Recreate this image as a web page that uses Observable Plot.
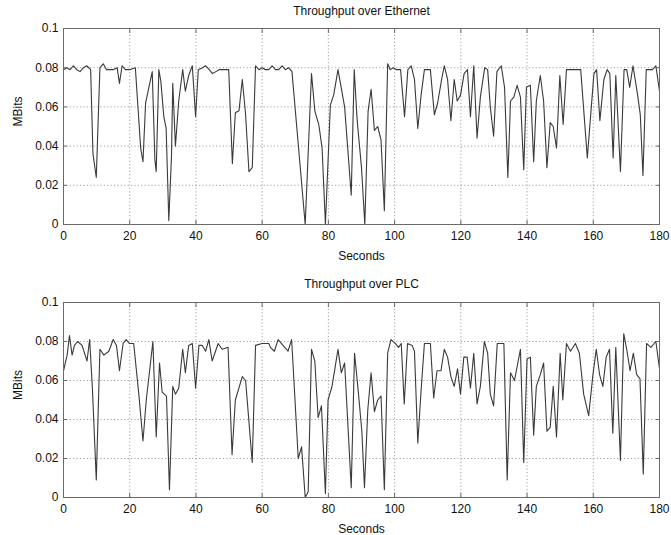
<!DOCTYPE html>
<html>
<head>
<meta charset="utf-8">
<script src="https://cdn.jsdelivr.net/npm/d3@7"></script>
<script src="https://cdn.jsdelivr.net/npm/@observablehq/plot@0.6"></script>
<style>
  html, body { margin: 0; padding: 0; background: #fff; }
  #chart { width: 671px; height: 535px; position: relative; }
  #chart svg { display: block; }
</style>
</head>
<body>
<div id="chart"></div>
<script>
const xTicks = [0, 20, 40, 60, 80, 100, 120, 140, 160, 180];
const yTicks = [0, 0.02, 0.04, 0.06, 0.08, 0.1];
const titles = ["Throughput over Ethernet", "Throughput over PLC"];
const xLabel = "Seconds";
const yLabel = "MBits";

const ethTime = [0,1,2,3,4,5,6,7,8.2,8.9,9.9,11,12,13,14,15,16.2,16.9,17.7,18.7,20,21.7,23.3,24,24.8,26.8,27.6,28,28.8,29.4,30.3,31,31.8,32.6,33,33.8,34.8,36,36.8,37.8,38.9,39.9,40.7,42,42.9,44,45,46,47,48,49.9,51,51.9,53,54,55,56,57,58,59,60,61,62,63,64,65,66,67,68,69,73,74.9,75.9,77.1,78.1,79.1,80.6,81.6,82.9,84.9,86.9,87.8,88.7,90,91,92,92.9,93.9,94.9,95.9,96.9,97.9,98.7,99.6,100.6,101.8,103,104,105,106,107,108,109,110.8,112,113,114.2,115,116,117,118,118.9,119.9,121,122,122.9,123.9,124.9,125.9,127.2,128.1,128.9,129.9,130.9,132.2,133.2,134.2,135,136,137,138,139,139.8,141,142,142.8,144,145,146,147,147.9,148.9,149.9,150.9,151.9,154,156.2,158.2,160.2,161,162,163.2,164.2,165,166,166.8,168.2,169.3,170.1,171,172,173.4,174.2,175,176,177.9,178.9,180];
const ethMbits = [0.079,0.080,0.079,0.081,0.079,0.078,0.080,0.081,0.079,0.036,0.024,0.080,0.082,0.079,0.079,0.079,0.080,0.072,0.081,0.079,0.079,0.080,0.039,0.032,0.062,0.078,0.033,0.027,0.079,0.073,0.055,0.049,0.002,0.034,0.072,0.040,0.063,0.079,0.068,0.076,0.081,0.055,0.079,0.080,0.081,0.079,0.077,0.078,0.079,0.079,0.079,0.031,0.057,0.058,0.074,0.056,0.027,0.029,0.081,0.079,0.080,0.079,0.079,0.081,0.079,0.079,0.081,0.079,0.080,0.078,0.000,0.077,0.058,0.051,0.039,0.000,0.061,0.066,0.079,0.060,0.015,0.079,0.053,0.029,0.000,0.058,0.069,0.048,0.050,0.043,0.007,0.082,0.079,0.080,0.079,0.079,0.055,0.079,0.081,0.074,0.049,0.066,0.079,0.079,0.056,0.062,0.074,0.081,0.074,0.053,0.074,0.063,0.066,0.077,0.079,0.055,0.081,0.044,0.065,0.080,0.079,0.060,0.045,0.078,0.081,0.070,0.024,0.063,0.065,0.071,0.065,0.028,0.070,0.071,0.032,0.063,0.076,0.063,0.029,0.052,0.050,0.039,0.076,0.051,0.079,0.079,0.079,0.034,0.077,0.079,0.053,0.074,0.079,0.077,0.034,0.076,0.027,0.079,0.079,0.070,0.081,0.066,0.056,0.025,0.079,0.079,0.081,0.068];

const plcTime = [0,1.1,1.8,2.6,3.3,4.3,5.6,7.1,7.9,8.7,9.9,11,12.2,13.7,15,16,16.9,18,18.9,19.9,21.2,22.8,24,25,27,28,29,29.8,31.1,32,33,33.8,34.8,36,36.8,37.8,38.9,39.9,40.9,41.9,42.9,43.9,44.9,46.7,47.9,49.7,50.9,51.9,54,55,57,58,60,62,62.5,63.7,64.8,65.8,66.8,67.8,68.9,70.9,71.9,73,73.9,74.9,75.9,76.9,77.9,79.1,79.9,81.1,82.9,83.9,84.9,86.9,87.9,89.1,90.1,90.9,91.9,92.9,93.9,94.9,95.9,96.9,97.9,98.9,100.2,101.2,102,102.9,103.9,105.3,106,107,108,109,110.8,111.8,112.8,114,115,116,117,118,119,119.9,120.9,121.9,122.9,123.9,124.9,125.9,127.1,128.1,128.9,129.9,131,133,134,135,136.2,138,139,140,141,142,142.8,144,145,146,147,147.9,148.9,150,150.8,151.9,153.1,154.6,155.8,157.1,158.6,159.9,160.9,161.9,162.9,163.9,164.9,165.9,166.8,168.2,169.2,170.2,171.1,172.1,173.1,174.1,175.1,176.1,177.4,178.9,180];
const plcMbits = [0.065,0.073,0.083,0.073,0.078,0.080,0.078,0.070,0.081,0.057,0.009,0.076,0.073,0.075,0.081,0.078,0.065,0.079,0.081,0.079,0.079,0.052,0.029,0.050,0.080,0.031,0.069,0.054,0.052,0.004,0.057,0.053,0.056,0.076,0.064,0.078,0.079,0.056,0.078,0.078,0.075,0.081,0.070,0.079,0.076,0.077,0.022,0.050,0.062,0.060,0.018,0.078,0.079,0.079,0.077,0.075,0.081,0.079,0.077,0.075,0.081,0.020,0.026,0.000,0.003,0.076,0.070,0.041,0.047,0.002,0.050,0.057,0.076,0.064,0.069,0.005,0.074,0.053,0.034,0.005,0.045,0.064,0.044,0.050,0.052,0.004,0.074,0.081,0.079,0.077,0.079,0.048,0.079,0.078,0.075,0.028,0.055,0.079,0.079,0.051,0.065,0.065,0.076,0.072,0.062,0.057,0.066,0.053,0.072,0.072,0.056,0.074,0.048,0.057,0.080,0.074,0.053,0.047,0.079,0.079,0.009,0.064,0.060,0.076,0.018,0.071,0.072,0.032,0.057,0.063,0.069,0.034,0.036,0.057,0.031,0.074,0.050,0.079,0.075,0.079,0.074,0.053,0.042,0.063,0.076,0.063,0.057,0.072,0.076,0.033,0.077,0.019,0.084,0.075,0.065,0.074,0.063,0.061,0.012,0.079,0.077,0.080,0.066];

const FONT = "'Liberation Sans', Arial, Helvetica, sans-serif";

function panel(title, time, vals, height, mTop, mBottom, titleDy) {
  const data = time.map((t, i) => ({t, v: vals[i]}));
  const gridStyle = {stroke: "#8a8a8a", strokeOpacity: 1, strokeWidth: 0.8, strokeDasharray: "1.2,2.2"};
  const fmtY = d => String(+d.toFixed(2));
  return Plot.plot({
    width: 671,
    height,
    marginLeft: 63,
    marginRight: 12,
    marginTop: mTop,
    marginBottom: mBottom,
    style: {fontFamily: FONT, fontSize: "12px", color: "#111", background: "#fff", overflow: "visible"},
    x: {domain: [0, 180], label: null},
    y: {domain: [0, 0.1], label: null},
    marks: [
      Plot.gridX({ticks: xTicks, ...gridStyle}),
      Plot.gridY({ticks: yTicks, ...gridStyle}),
      Plot.line(data, {x: "t", y: "v", stroke: "#3a3a3a", strokeWidth: 1.1}),
      Plot.frame({stroke: "#6a6a6a", strokeWidth: 1}),
      Plot.axisX({ticks: xTicks, anchor: "bottom", tickSize: -4, fill: "none", stroke: "#6a6a6a", label: null}),
      Plot.axisX({ticks: xTicks, anchor: "top", tickSize: -4, fill: "none", stroke: "#6a6a6a", label: null}),
      Plot.axisY({ticks: yTicks, anchor: "left", tickSize: -4, fill: "none", stroke: "#6a6a6a", label: null}),
      Plot.axisY({ticks: yTicks, anchor: "right", tickSize: -4, fill: "none", stroke: "#6a6a6a", label: null}),
      Plot.axisX({ticks: xTicks, anchor: "bottom", tickSize: 0, tickPadding: 7, label: null, fontSize: 12}),
      Plot.axisY({ticks: yTicks, anchor: "left", tickSize: 0, tickPadding: 5, tickFormat: fmtY, label: null, fontSize: 12}),
      Plot.text([title], {text: d => d, frameAnchor: "top", dy: titleDy, fontSize: 12, fill: "#111"}),
      Plot.text([xLabel], {text: d => d, frameAnchor: "bottom", dy: 35, fontSize: 12, fill: "#111"}),
      Plot.text([yLabel], {text: d => d, frameAnchor: "left", dx: -45, rotate: -90, fontSize: 12, fill: "#111"})
    ]
  });
}

const root = document.getElementById("chart");
root.appendChild(panel(titles[0], ethTime, ethMbits, 268, 28, 44, -22));
root.appendChild(panel(titles[1], plcTime, plcMbits, 267, 34, 38, -23));
</script>
</body>
</html>
